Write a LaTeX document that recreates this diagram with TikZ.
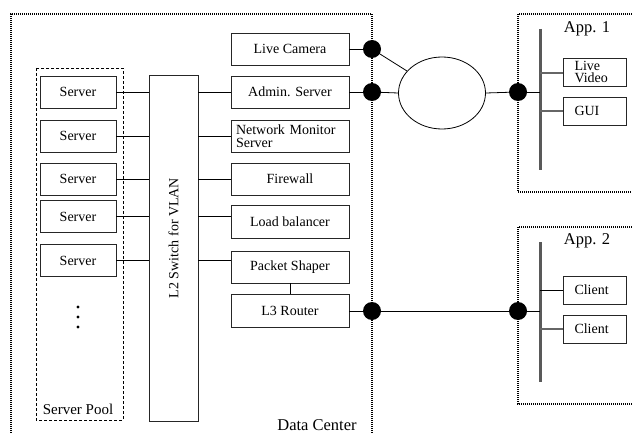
\documentclass[tikz,border=0pt]{standalone}
\usepackage{fontspec}
\setmainfont{Liberation Serif}
\usetikzlibrary{shapes.geometric,calc}
\begin{document}
\begin{tikzpicture}[x=1pt,y=-1pt,
  box/.style={draw=black!85,line width=0.8pt,minimum height=32pt,inner sep=0pt,
    font=\fontsize{14}{12.5}\selectfont},
  srv/.style={box,minimum width=76pt},
  dev/.style={box,minimum width=118pt},
  appbox/.style={draw=black!85,line width=0.8pt,minimum width=63pt,minimum height=28pt,
    inner sep=0pt,text width=40pt,align=left,font=\fontsize{14}{12.5}\selectfont},
  dot/.style={circle,fill=black,inner sep=0pt,minimum size=18pt},
  wire/.style={line width=0.8pt},
  gwire/.style={line width=1.3pt,draw=black!60},
  bus/.style={line width=3pt,draw=black!65},
  region/.style={line width=1.4pt,dash pattern=on 1pt off 1pt},
  label/.style={font=\fontsize{16.5}{18}\selectfont,inner sep=0pt}]
\useasboundingbox (0,0) rectangle (632,433);

% regions
\draw[region] (11,433) -- (11,14) -- (372,14) -- (372,433);
\draw[region] (632,14) -- (518,14) -- (518,192) -- (632,192);
\draw[region] (632,227) -- (518,227) -- (518,404) -- (632,404);
\draw[line width=0.8pt,dash pattern=on 3pt off 2pt] (36,68) rectangle (123,420);

% server pool
\node[srv] (s1) at (78,92) {Server};
\node[srv] (s2) at (78,136) {Server};
\node[srv] (s3) at (78,179) {Server};
\node[srv] (s4) at (78,216.5) {Server};
\node[srv] (s5) at (78,260.5) {Server};
\foreach \y in {307,317,327} \fill (78,\y) circle (1.7pt);
\node[font=\fontsize{15}{16}\selectfont,inner sep=0pt] (pool) at (78,409) {Server Pool};

% VLAN switch
\node[draw=black!85,line width=0.8pt,minimum width=49pt,minimum height=346pt,inner sep=0pt] (l2) at (173.5,248) {};
\node[rotate=90,font=\fontsize{14}{16}\selectfont,inner sep=0pt] (l2t) at (173.5,238) {L2 Switch for VLAN};

% data center devices
\node[dev] (cam) at (290,49) {Live Camera};
\node[dev] (adm) at (290,92) {Admin. Server};
\node[dev,text width=108pt,align=left] (mon) at (290,136) {Network Monitor\\Server};
\node[dev] (fw) at (290,179) {Firewall};
\node[dev,minimum height=33pt] (lb) at (290,221.5) {Load balancer};
\node[dev] (ps) at (290,267) {Packet Shaper};
\node[dev,minimum height=33pt] (l3) at (290,310.5) {L3 Router};
\node[label] (dc) at (317,425) {Data Center};

% links through the switch
\foreach \s in {s1,s2,s3,s4,s5}
  \draw[wire] (\s.east) -- (\s.east -| l2.west);
\draw[wire] (l2.east |- s1.east) -- (adm.west |- s1.east);
\draw[wire] (l2.east |- s2.east) -- (mon.west |- s2.east);
\draw[wire] (l2.east |- s3.east) -- (fw.west |- s3.east);
\draw[wire] (l2.east |- s4.east) -- (lb.west |- s4.east);
\draw[wire] (l2.east |- s5.east) -- (ps.west |- s5.east);
\draw[wire] (ps.south) -- (l3.north);

% gateways and network
\node[dot] (g1) at (372,49) {};
\node[dot] (g2) at (372,92) {};
\node[dot] (g3) at (372,311) {};
\node[dot] (g4) at (518,92) {};
\node[dot] (g5) at (518,311) {};
\node[ellipse,draw,line width=0.8pt,minimum width=87pt,minimum height=72pt,inner sep=0pt] (net) at (442,93) {};

\draw[wire] (cam.east) -- (g1);
\draw[wire] (adm.east) -- (g2);
\draw[wire] (l3.east |- g3) -- (g3);
\draw[wire] (g1.center) -- (net);
\draw[wire] (g2) -- (net.west);
\draw[wire] (net.east) -- (g4);
\draw[wire] (g3) -- (g5);

% App. 1
\coordinate (b1t) at (540,29);
\coordinate (b1b) at (540,170);
\draw[bus] (b1t) -- (b1b);
\node[label] (app1) at (587,29) {App. 1};
\node[appbox] (lv) at (594.5,72) {Live\\Video};
\node[appbox] (gui) at (594.5,111) {GUI};
\draw[wire] (g4) -- (g4 -| b1t);
\draw[gwire] (b1t |- 0,73) -- (lv.west |- 0,73);
\draw[gwire] (b1t |- gui.west) -- (gui.west);

% App. 2
\coordinate (b2t) at (540,242);
\coordinate (b2b) at (540,382);
\draw[bus] (b2t) -- (b2b);
\node[label] (app2) at (587,241) {App. 2};
\node[appbox] (c1) at (594.5,290) {Client};
\node[appbox] (c2) at (594.5,329) {Client};
\draw[wire] (g5) -- (g5 -| b2t);
\draw[wire] (b2t |- c1.west) -- (c1.west);
\draw[gwire] (b2t |- c2.west) -- (c2.west);
\end{tikzpicture}
\end{document}
